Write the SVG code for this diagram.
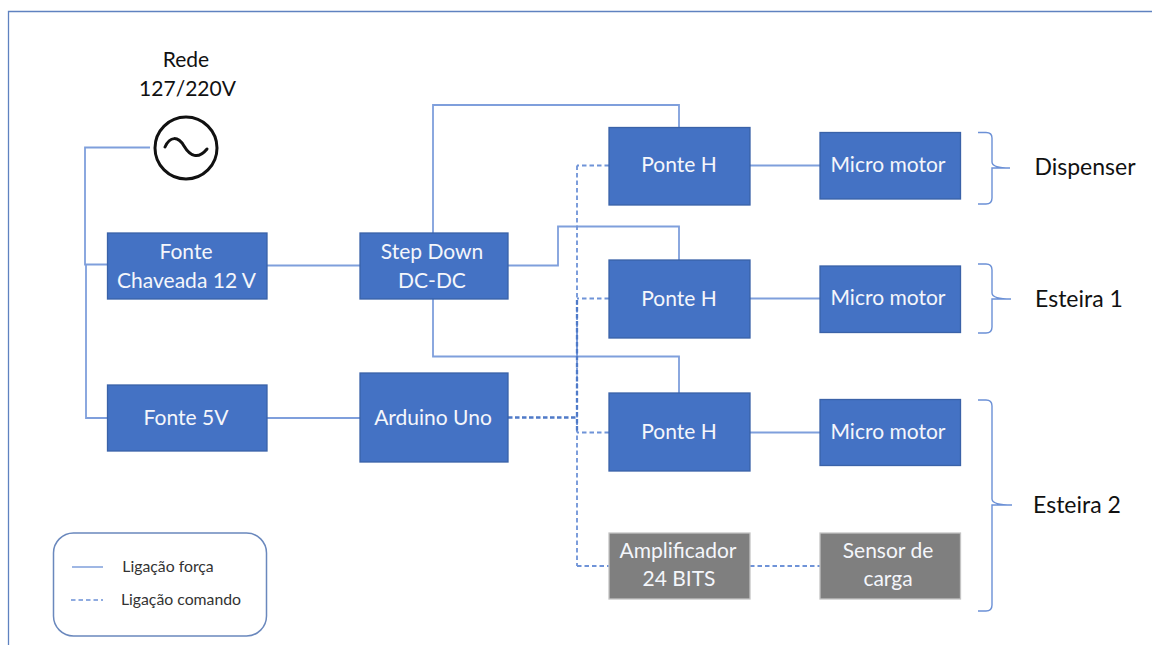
<svg xmlns="http://www.w3.org/2000/svg" width="1152" height="645" viewBox="0 0 1152 645">
<style>
text{font-family:Lato,"Open Sans","Liberation Sans",sans-serif;font-size:21px;text-anchor:middle}
.w{fill:#f4f6fb}
.k{fill:#111}
.big{font-size:23px}
.leg{font-size:15.8px;fill:#333}
.blue rect{fill:#4472c4;stroke:#3a62a8;stroke-width:1.3}
.grey rect{fill:#7f7f7f;stroke:#c4c4c4;stroke-width:1.3}
.p{fill:none;stroke:#7f9fdc;stroke-width:1.8}
.d{fill:none;stroke:#6f93d8;stroke-width:1.8;stroke-dasharray:4.5 3}
.dd{fill:none;stroke:#4f7ac8;stroke-width:2.3;stroke-dasharray:4.5 2.5}
.b{fill:none;stroke:#6b90d6;stroke-width:1.4}
</style>
<rect width="1152" height="645" fill="#fff"/>
<path d="M8.500 645V11.500H1152" fill="none" stroke="#5f82c0" stroke-width="1.300"/>
<g id="connectors">
<path class="p" d="M150 147.500H85V264.500H107"/>
<path class="p" d="M86 264.500V418H107"/>
<path class="p" d="M267 265.500H360"/>
<path class="p" d="M267 418H360"/>
<path class="p" d="M433 233V105H679V127"/>
<path class="p" d="M508 265.500H558V226.500H679V260"/>
<path class="p" d="M433 299V356.500H679V393"/>
<path class="p" d="M750 165.500H820"/>
<path class="p" d="M750 298.500H820"/>
<path class="p" d="M750 432.500H820"/>
<path class="dd" d="M508 417.500H577"/>
<path class="d" d="M577 165.500V566"/>
<path class="dd" d="M577 300V433"/>
<path class="d" d="M609 165.500H577"/>
<path class="d" d="M609 298.500H577"/>
<path class="d" d="M609 432.500H577"/>
<path class="d" d="M577 566H609"/>
<path class="d" d="M750 566H820"/>
</g>
<g id="rede"><text class="k" x="186" y="67">Rede</text><text class="k" x="187.500" y="96">127/220V</text>
<circle cx="186" cy="148" r="31" fill="#fff" stroke="#111" stroke-width="3"/>
<path d="M165 147C170 136 178 136 184 146S198 160 207 149" fill="none" stroke="#111" stroke-width="3" stroke-linecap="round"/></g>
<g id="fonte12" class="blue"><rect x="107.500" y="233" width="159.500" height="66"/><text class="w" x="186" y="259">Fonte</text><text class="w" x="186.500" y="288">Chaveada 12 V</text></g>
<g id="fonte5" class="blue"><rect x="107.500" y="385" width="159.500" height="66"/><text class="w" x="186" y="425">Fonte 5V</text></g>
<g id="stepdown" class="blue"><rect x="360" y="233" width="148" height="66"/><text class="w" x="432" y="259">Step Down</text><text class="w" x="432" y="288">DC-DC</text></g>
<g id="arduino" class="blue"><rect x="360" y="373" width="148" height="89"/><text class="w" x="433" y="425">Arduino Uno</text></g>
<g id="ponte1" class="blue"><rect x="609" y="127.500" width="141" height="77.500"/><text class="w" x="679" y="172">Ponte H</text></g>
<g id="ponte2" class="blue"><rect x="609" y="260" width="141" height="78"/><text class="w" x="679" y="306">Ponte H</text></g>
<g id="ponte3" class="blue"><rect x="609" y="393" width="141" height="78"/><text class="w" x="679" y="439">Ponte H</text></g>
<g id="motor1" class="blue"><rect x="820" y="132.500" width="140.500" height="66.500"/><text class="w" x="888" y="172">Micro motor</text></g>
<g id="motor2" class="blue"><rect x="820" y="266" width="140.500" height="66.500"/><text class="w" x="888" y="305">Micro motor</text></g>
<g id="motor3" class="blue"><rect x="820" y="399.500" width="140.500" height="66"/><text class="w" x="888" y="439">Micro motor</text></g>
<g id="amplificador" class="grey"><rect x="609" y="533" width="141" height="66"/><text class="w" x="678" y="558">Amplificador</text><text class="w" x="679" y="586">24 BITS</text></g>
<g id="sensor" class="grey"><rect x="820" y="533" width="140.500" height="66"/><text class="w" x="888" y="558">Sensor de</text><text class="w" x="888" y="586">carga</text></g>
<g id="brackets">
<path class="b" d="M978 132.500H986Q992 132.500 992 138V162Q992 168 1010 168H992Q992 168 992 174V198Q992 204 986 204H978"/>
<path class="b" d="M978 264H986Q992 264 992 270V293Q992 299 1011 299H992V327Q992 333 986 333H978"/>
<path class="b" d="M978 400H986Q992 400 992 406V499Q992 505 1012 505H992V605Q992 611 986 611H978"/>
<text class="k big" x="1085" y="175">Dispenser</text>
<text class="k big" x="1079" y="307">Esteira 1</text>
<text class="k big" x="1077" y="513">Esteira 2</text>
</g>
<g id="legend">
<rect x="53.500" y="533" width="213" height="103" rx="20" fill="#fff" stroke="#6a88bd" stroke-width="1.500"/>
<path d="M72 567H103" fill="none" stroke="#6b90d6" stroke-width="1.300"/>
<path d="M71 600H103" fill="none" stroke="#6b90d6" stroke-width="1.300" stroke-dasharray="4.500 3"/>
<text class="leg" x="168" y="572">Ligação força</text>
<text class="leg" x="181" y="605">Ligação comando</text>
</g>
</svg>
